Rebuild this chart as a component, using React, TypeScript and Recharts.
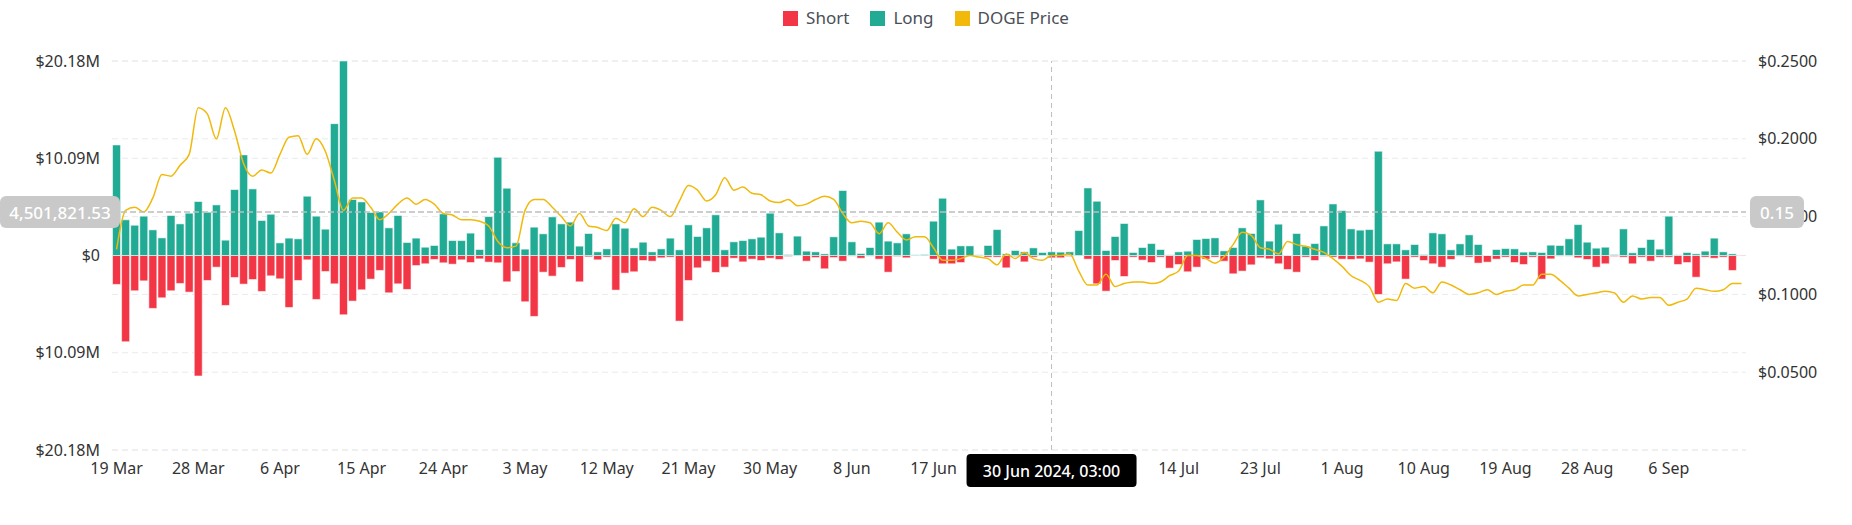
import { ComposedChart, Bar, Line, XAxis, YAxis, CartesianGrid, ReferenceLine } from "recharts";

const MONTHS = ["Jan", "Feb", "Mar", "Apr", "May", "Jun", "Jul", "Aug", "Sep", "Oct", "Nov", "Dec"];

// one bar per day, 19 Mar -> 14 Sep 2024
const DAY_COUNT = 180;
const dates = Array.from({ length: DAY_COUNT }, (_, i) => {
  const d = new Date(2024, 2, 19 + i);
  return `${d.getDate()} ${MONTHS[d.getMonth()]}`;
});

// liquidations in $M
const longM = [
  11.47, 3.7, 3.14, 4.08, 2.66, 1.83, 4.15, 3.28, 4.39, 5.6, 4.49, 5.25, 1.59, 6.84, 10.44, 6.91, 3.63, 4.28, 1.31, 1.8,
  1.73, 6.15, 4.08, 2.73, 13.68, 20.18, 5.81, 5.56, 4.46, 4.53, 2.87, 4.15, 1.35, 1.8, 0.86, 1.04, 4.32, 1.55, 1.55, 2.32,
  0.62, 4.04, 10.19, 6.98, 1.31, 0.66, 2.94, 2.25, 4.01, 3.28, 3.46, 0.97, 2.28, 0.38, 0.69, 3.28, 2.83, 0.79, 1.38, 0.38,
  0.69, 1.8, 0.59, 3.18, 1.97, 2.87, 4.22, 0.59, 1.42, 1.55, 1.73, 1.9, 4.39, 2.35, 0.1, 2.01, 0.45, 0.38, 0.17, 1.94,
  6.74, 1.42, 0.21, 0.83, 3.46, 1.49, 1.31, 2.25, 0.07, 0.1, 3.56, 5.94, 0.66, 1.0, 1.0, 0.07, 1.04, 2.69, 0.17, 0.52,
  0.38, 0.79, 0.31, 0.38, 0.35, 0.38, 2.59, 7.01, 5.63, 0.52, 1.97, 3.32, 0.31, 0.83, 1.24, 0.62, 0.07, 0.38, 0.45, 1.66,
  1.76, 1.83, 0.48, 0.83, 2.87, 2.28, 5.77, 1.49, 3.25, 0.03, 2.28, 0.97, 1.24, 3.07, 5.35, 4.66, 2.76, 2.63, 2.69, 10.82,
  1.21, 1.21, 0.59, 1.14, 0.1, 2.35, 2.25, 0.59, 1.21, 2.14, 1.14, 0.02, 0.62, 0.72, 0.69, 0.35, 0.38, 0.31, 1.07, 1.04,
  1.73, 3.21, 1.38, 0.76, 0.86, 0.1, 2.76, 0.28, 0.83, 1.66, 0.66, 4.08, 0.07, 0.31, 0.17, 0.45, 1.8, 0.38, 0.17, 0,
];

const shortM = [
  3.0, 8.95, 3.66, 2.63, 5.49, 4.39, 3.66, 2.9, 3.8, 12.5, 2.59, 1.21, 5.18, 2.28, 2.97, 2.49, 3.73, 2.11, 2.42, 5.39,
  2.59, 0.45, 4.56, 1.66, 2.94, 6.15, 4.73, 3.56, 2.45, 1.55, 3.87, 2.94, 3.52, 1.04, 0.86, 0.41, 0.76, 0.9, 0.45, 0.73,
  0.35, 0.69, 0.76, 2.73, 1.66, 4.8, 6.32, 1.73, 2.14, 1.24, 0.41, 2.73, 0.14, 0.45, 0.17, 3.59, 1.83, 1.69, 0.52, 0.59,
  0.24, 0.17, 6.81, 2.59, 1.28, 0.59, 1.76, 1.21, 0.28, 0.66, 0.38, 0.52, 0.28, 0.41, 0.1, 0.03, 0.59, 0.21, 1.38, 0.21,
  0.59, 0.07, 0.28, 0.07, 0.38, 1.73, 0.1, 0.24, 0.03, 0.03, 0.38, 0.86, 0.86, 0.73, 0.03, 0.03, 0.17, 0.17, 1.28, 0.1,
  0.66, 0.17, 0.03, 0.24, 0.24, 0.1, 0.03, 0.38, 2.94, 3.7, 0.52, 2.18, 0.17, 0.48, 0.73, 0.17, 1.31, 0.93, 1.69, 1.21,
  0.38, 0.17, 0.59, 1.9, 1.62, 0.97, 0.24, 0.35, 0.86, 1.45, 1.73, 0.17, 0.52, 0.1, 0.17, 0.38, 0.41, 0.35, 0.69, 4.04,
  0.86, 0.66, 2.45, 0.17, 0.52, 0.86, 1.21, 0.41, 0.07, 0.17, 0.79, 0.69, 0.38, 0.17, 0.73, 0.93, 0.17, 2.45, 0.35, 0.07,
  0.07, 0.24, 0.41, 1.21, 0.86, 0.1, 0.17, 0.86, 0.17, 0.59, 0.17, 0.17, 0.93, 0.73, 2.25, 0.17, 0.28, 0.17, 1.55, 0.05,
];

const dogePrice = [
  0.129, 0.154, 0.156, 0.153, 0.162, 0.177, 0.176, 0.183, 0.19, 0.22, 0.216, 0.2, 0.22, 0.205, 0.184, 0.176, 0.18, 0.178, 0.19, 0.201,
  0.202, 0.19, 0.2, 0.192, 0.173, 0.154, 0.162, 0.162, 0.156, 0.148, 0.152, 0.158, 0.162, 0.158, 0.161, 0.158, 0.152, 0.151, 0.148, 0.148,
  0.147, 0.144, 0.134, 0.13, 0.131, 0.154, 0.161, 0.161, 0.156, 0.15, 0.144, 0.152, 0.144, 0.143, 0.141, 0.149, 0.146, 0.155, 0.15, 0.156,
  0.154, 0.15, 0.16, 0.17, 0.167, 0.16, 0.164, 0.175, 0.167, 0.169, 0.165, 0.164, 0.16, 0.159, 0.161, 0.157, 0.158, 0.161, 0.163, 0.161,
  0.152, 0.146, 0.147, 0.146, 0.139, 0.146, 0.14, 0.135, 0.137, 0.137, 0.13, 0.122, 0.122, 0.123, 0.125, 0.124, 0.123, 0.119, 0.126, 0.123,
  0.127, 0.123, 0.122, 0.125, 0.125, 0.126, 0.115, 0.106, 0.106, 0.113, 0.105, 0.107, 0.108, 0.108, 0.107, 0.108, 0.112, 0.115, 0.125, 0.125,
  0.123, 0.12, 0.124, 0.132, 0.14, 0.138, 0.13, 0.129, 0.126, 0.134, 0.132, 0.131, 0.129, 0.127, 0.123, 0.118, 0.112, 0.109, 0.105, 0.095,
  0.097, 0.096, 0.107, 0.104, 0.105, 0.101, 0.108, 0.106, 0.103, 0.1, 0.101, 0.103, 0.1, 0.102, 0.103, 0.106, 0.106, 0.113, 0.113, 0.109,
  0.104, 0.099, 0.1, 0.101, 0.102, 0.101, 0.095, 0.099, 0.097, 0.098, 0.098, 0.093, 0.095, 0.097, 0.104, 0.103, 0.102, 0.103, 0.107, 0.107,
];

const leftTicks = [-20180000, -10090000, 0, 10090000, 20180000];
const rightTicks = [0.05, 0.1, 0.15, 0.2, 0.25];

// crosshair (hovered point) shown in the screenshot
const CURSOR_DATE = "30 Jun";
const CURSOR_LABEL = "30 Jun 2024, 03:00";
const CURSOR_VALUE = 4501821.53;
const CURSOR_VALUE_LABEL = "4,501,821.53";
const CURSOR_PRICE_LABEL = "0.15";
// date ticks that sit under the black date badge
const HIDDEN_DATES = ["26 Jun", "5 Jul"];

const COLORS = {
  short: "#F23645",
  long: "#22AB94",
  price: "#F0B90B",
  grid: "#E9EAEC",
  tick: "#333333",
  legend: "#4A4F57",
  cursor: "#BDBDBD",
  badge: "#C9C9C9",
};

const FONT = "'Noto Sans', Roboto, sans-serif";

const chartData = dates.map((date, i) => ({
  date,
  long: longM[i] * 1e6,
  short: -shortM[i] * 1e6,
  price: dogePrice[i],
}));

const fmtUsdM = (v: number) => (v === 0 ? "$0" : `$${(Math.abs(v) / 1e6).toFixed(2)}M`);
const fmtPrice = (v: number) => `$${v.toFixed(4)}`;

function DateTick({ x, y, payload }: any) {
  if (HIDDEN_DATES.includes(payload.value)) return null;
  return (
    <text x={x} y={y} dy="0.71em" textAnchor="middle" fontSize={16} fill={COLORS.tick} fontFamily={FONT}>
      {payload.value}
    </text>
  );
}

function DateBadge({ viewBox }: any) {
  if (!viewBox) return null;
  const cx = viewBox.x;
  const top = viewBox.y + viewBox.height + 4;
  return (
    <g>
      <rect x={cx - 85} y={top} width={170} height={33} rx={4} fill="#000" />
      <text x={cx} y={top + 17} textAnchor="middle" dominantBaseline="central" fill="#fff" fontSize={16} fontWeight={500} fontFamily={FONT}>
        {CURSOR_LABEL}
      </text>
    </g>
  );
}

function ValueBadges({ viewBox }: any) {
  if (!viewBox) return null;
  const y = viewBox.y;
  const right = viewBox.x + viewBox.width;
  return (
    <g>
      <rect x={viewBox.x - 112} y={y - 16} width={120} height={32} rx={6} fill={COLORS.badge} />
      <text x={viewBox.x - 52} y={y} textAnchor="middle" dominantBaseline="central" fill="#fff" fontSize={17} fontWeight={500} fontFamily={FONT}>
        {CURSOR_VALUE_LABEL}
      </text>
      <rect x={right + 4} y={y - 16} width={54} height={32} rx={6} fill={COLORS.badge} />
      <text x={right + 31} y={y} textAnchor="middle" dominantBaseline="central" fill="#fff" fontSize={17} fontWeight={500} fontFamily={FONT}>
        {CURSOR_PRICE_LABEL}
      </text>
    </g>
  );
}

const legendItems = [
  { name: "Short", color: COLORS.short },
  { name: "Long", color: COLORS.long },
  { name: "DOGE Price", color: COLORS.price },
];

export default function App() {
  return (
    <div style={{ position: "relative", width: 1852, height: 525, fontFamily: FONT, background: "#fff" }}>
      <style>{"body{margin:0}"}</style>

      {/* Legend */}
      <div
        style={{
          position: "absolute",
          top: 6,
          left: 0,
          width: 1852,
          display: "flex",
          justifyContent: "center",
          gap: 21,
          fontSize: 17,
          color: COLORS.legend,
          lineHeight: "24px",
        }}
      >
        {legendItems.map((item) => (
          <div key={item.name} style={{ display: "flex", alignItems: "center", gap: 8 }}>
            <div style={{ width: 15, height: 15, backgroundColor: item.color }} />
            <span>{item.name}</span>
          </div>
        ))}
      </div>

      <ComposedChart
        width={1852}
        height={525}
        data={chartData}
        stackOffset="sign"
        barCategoryGap="6%"
        margin={{ top: 61, right: 0, bottom: 0, left: 0 }}
      >
        <CartesianGrid yAxisId="left" vertical={false} stroke={COLORS.grid} strokeDasharray="6 4" />
        <CartesianGrid yAxisId="right" vertical={false} stroke={COLORS.grid} strokeDasharray="6 4" />
        <XAxis
          dataKey="date"
          interval={8}
          height={75}
          axisLine={false}
          tickLine={false}
          tickMargin={7}
          tick={<DateTick />}
        />
        <YAxis
          yAxisId="left"
          width={112}
          domain={[-20180000, 20180000]}
          ticks={leftTicks}
          tickFormatter={fmtUsdM}
          axisLine={false}
          tickLine={false}
          tickMargin={6}
          tick={{ fontSize: 16, fill: COLORS.tick, fontFamily: FONT }}
        />
        <YAxis
          yAxisId="right"
          orientation="right"
          width={106}
          domain={[0, 0.25]}
          ticks={rightTicks}
          tickFormatter={fmtPrice}
          axisLine={false}
          tickLine={false}
          tickMargin={6}
          tick={{ fontSize: 16, fill: COLORS.tick, fontFamily: FONT }}
        />
        <Bar
          yAxisId="left"
          dataKey="short"
          name="Short"
          stackId="liq"
          fill={COLORS.short}
          stroke="#fff"
          strokeOpacity={0.55}
          isAnimationActive={false}
        />
        <Bar
          yAxisId="left"
          dataKey="long"
          name="Long"
          stackId="liq"
          fill={COLORS.long}
          stroke="#fff"
          strokeOpacity={0.55}
          isAnimationActive={false}
        />
        <Line
          yAxisId="right"
          dataKey="price"
          name="DOGE Price"
          type="monotone"
          stroke={COLORS.price}
          strokeWidth={1.5}
          dot={false}
          isAnimationActive={false}
        />
        <ReferenceLine
          yAxisId="left"
          x={CURSOR_DATE}
          stroke={COLORS.cursor}
          strokeDasharray="5 4"
          label={<DateBadge />}
          {...({ zIndex: 2500 } as any)}
        />
        <ReferenceLine
          yAxisId="left"
          y={CURSOR_VALUE}
          stroke={COLORS.cursor}
          strokeWidth={1.5}
          strokeDasharray="6 3"
          label={<ValueBadges />}
          {...({ zIndex: 2500 } as any)}
        />
      </ComposedChart>
    </div>
  );
}
